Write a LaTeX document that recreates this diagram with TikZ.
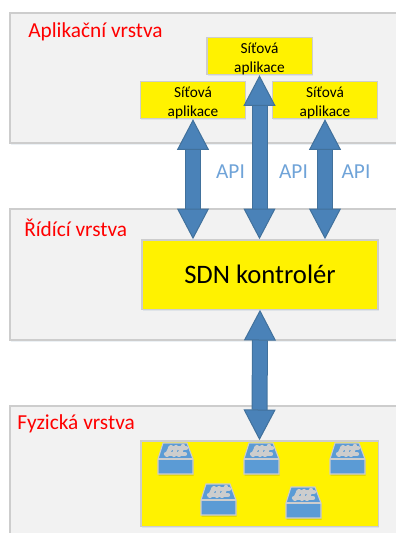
\documentclass[tikz,border=0pt]{standalone}
\usepackage{fontspec}
\setmainfont{Carlito}
\usetikzlibrary{arrows.meta,bending,shadows}
\definecolor{layergray}{HTML}{F2F2F2}
\definecolor{edgegray}{HTML}{CDCDCD}
\definecolor{arrowblue}{HTML}{4A82B8}
\definecolor{arrowedge}{HTML}{41719C}
\definecolor{apiblue}{HTML}{6FA3D8}
\definecolor{switchblue}{HTML}{5B9BD5}
\newcommand{\apptext}{\rule{0pt}{12pt}Síťová\\aplikace}
\tikzset{
  softshadow/.style={drop shadow={shadow xshift=0.5pt, shadow yshift=-1.2pt, opacity=0.1, fill=arrowedge}},
  layerbox/.style={draw=edgegray, fill=layergray, line width=1pt, softshadow},
  yellowbox/.style={draw=edgegray, fill=yellow, line width=1pt, inner sep=0pt, softshadow},
  appbox/.style={yellowbox, minimum width=79pt, minimum height=25.5pt, align=center, font=\fontsize{11.5}{14}\selectfont},
  layerlabel/.style={text=red, anchor=west, inner sep=0pt, font=\fontsize{16}{18}\selectfont},
  apilabel/.style={text=apiblue, inner sep=0pt, font=\fontsize{16}{18}\selectfont},
  bigarrow/.style={line width=0.75pt, draw=arrowedge, double=arrowblue, double distance=10.5pt,
    {Triangle[length=23pt, width=24pt, fill=arrowblue, color=arrowedge]}-{Triangle[length=23pt, width=24pt, fill=arrowblue, color=arrowedge]}},
  switchicon/.pic={
    \path[draw=edgegray, fill=switchblue, line width=0.8pt, drop shadow={shadow xshift=0.4pt, shadow yshift=-1.4pt, opacity=0.1, fill=black}]
      (5,0) -- (29,0) -- (35,16) -- (35,31) -- (0,31) -- (0,16) -- cycle;
    \draw[edgegray, line width=0.8pt] (0,16) -- (35,16);
    \draw[edgegray, line width=3.2pt, line cap=round] (8,11) -- (15,11) (17,11) -- (27,11) (12,5) -- (17,5) (20,5) -- (28,5);
    \draw[edgegray, line width=3.2pt, line cap=round] (13,4) -- (9,12) (25,3) -- (21,12) (18,4) -- (16,12);
  }
}

\begin{document}
\begin{tikzpicture}[x=0.75pt, y=-0.75pt]
      \clip (0, 0) rectangle (396, 533);

      % layers
      \draw[layerbox] (10, 13) rectangle (420, 143);
      \draw[layerbox] (10, 209) rectangle (420, 340);
      \draw[layerbox] (10, 406) rectangle (420, 560);

      \node[layerlabel] (applabel) at (28, 32) {Aplikační vrstva};
      \node[layerlabel] (ctrllabel) at (24, 228) {Řídící vrstva};
      \node[layerlabel] (physlabel) at (17, 424) {Fyzická vrstva};

      \node[appbox] (apptop) at (259.5, 56) {\apptext};
      \node[appbox] (appleft) at (193, 100) {\apptext};
      \node[appbox] (appright) at (325, 100) {\apptext};

      \node[yellowbox, minimum width=177pt, minimum height=52pt, font=\fontsize{20}{24}\selectfont] (sdn) at (260, 274.5) {SDN kontrolér};
      \node[yellowbox, minimum width=178pt, minimum height=64pt] (phys) at (259.5, 483.5) {};

      \coordinate (sdnleft) at (sdn.north -| appleft.south);
      \coordinate (sdnmid) at (sdn.north -| apptop.south);
      \coordinate (sdnright) at (sdn.north -| appright.south);

      \draw[bigarrow] (appleft.south) -- (sdnleft);
      \draw[bigarrow] (apptop.south) -- (sdnmid);
      \draw[bigarrow] (appright.south) -- (sdnright);
      \draw[bigarrow] (sdn.south) -- (phys.north);

      \node[apilabel] (apileft) at (230.5, 172) {API};
      \node[apilabel] (apimid) at (293.5, 172) {API};
      \node[apilabel] (apiright) at (356, 172) {API};

      % switches
      \pic at (158, 443) {switchicon};
      \pic at (244, 443) {switchicon};
      \pic at (330, 443) {switchicon};
      \pic at (201, 484) {switchicon};
      \pic at (286, 487) {switchicon};
\end{tikzpicture}
\end{document}
